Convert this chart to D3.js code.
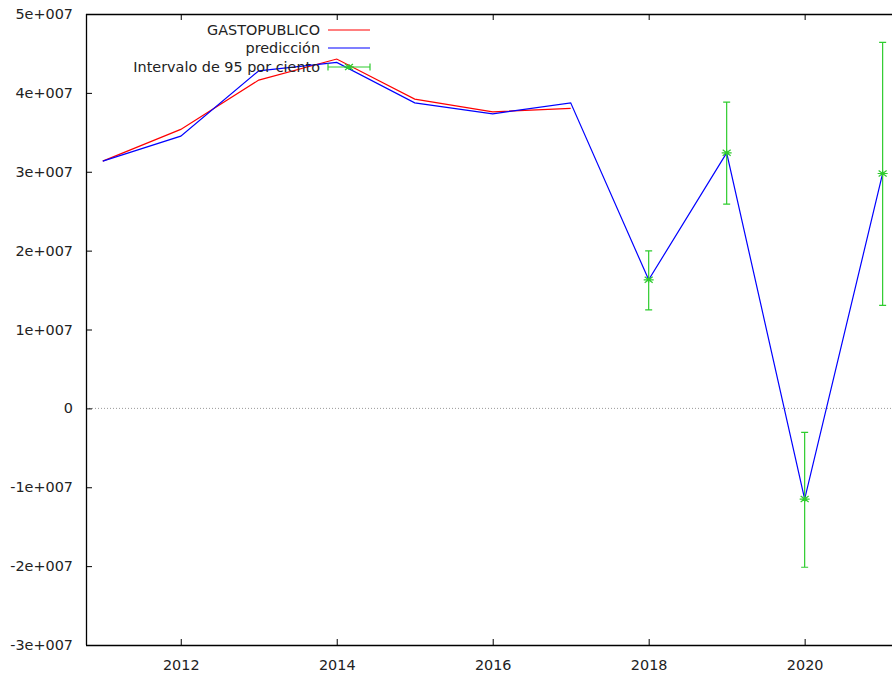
<!DOCTYPE html>
<html><head><meta charset="utf-8">
<script src="https://cdn.jsdelivr.net/npm/d3@7"></script>
<style>body{margin:0;background:#fff}svg{display:block}text{font-family:"DejaVu Sans",Verdana,sans-serif;font-size:14.4px;fill:#222}</style>
</head><body><svg id="c" width="892" height="674"></svg>
<script>
const years = [2011,2012,2013,2014,2015,2016,2017,2018,2019,2020,2021];
const gasto = [3.135e7,3.537e7,4.162e7,4.429e7,3.921e7,3.760e7,3.803e7];
const gastoYears = [2011,2012,2013,2014,2015,2016,2017];
const prediccion = [3.135e7,3.452e7,4.280e7,4.387e7,3.874e7,3.735e7,3.874e7,1.630e7,3.240e7,-1.150e7,2.978e7];
const ciYears = [2018,2019,2020,2021];
const ciCenter = [1.630e7,3.240e7,-1.150e7,2.978e7];
const ciLow = [1.248e7,2.589e7,-2.014e7,1.307e7];
const ciHigh = [1.996e7,3.883e7,-0.305e7,4.641e7];
const xTicks = [2012,2014,2016,2018,2020];
const yTicks = [5e7,4e7,3e7,2e7,1e7,0,-1e7,-2e7,-3e7];
const yTickLabels = ["5e+007","4e+007","3e+007","2e+007","1e+007","0","-1e+007","-2e+007","-3e+007"];
const legendLabels = ["GASTOPUBLICO","predicción","Intervalo de 95 por ciento"];

const L=86,R=892,T=14,B=645;
const FONT="14.4px";
const svg=d3.select("#c");
const x=d3.scaleLinear().domain([2010.785,2021.12]).range([L,R]);
const y=d3.scaleLinear().domain([-3e7,5e7]).range([B,T]);

// zero line
svg.append("line").attr("x1",L).attr("x2",R).attr("y1",y(0)).attr("y2",y(0))
  .attr("stroke","#999").attr("stroke-width",1).attr("stroke-dasharray","1,2");

// axes
const yAx=d3.axisLeft(y).tickValues(yTicks).tickFormat((d,i)=>yTickLabels[i]).tickSize(-6).tickPadding(13);
const gy=svg.append("g").attr("transform",`translate(${L},0)`).call(yAx);
const xAx=d3.axisBottom(x).tickValues(xTicks).tickFormat(d3.format("d")).tickSize(-6).tickPadding(15);
const gx=svg.append("g").attr("transform",`translate(0,${B})`).call(xAx);
const xTop=d3.axisTop(x).tickValues(xTicks).tickFormat("").tickSize(-6);
const gt=svg.append("g").attr("transform",`translate(0,${T})`).call(xTop);
[gy,gx,gt].forEach(g=>{g.select(".domain").attr("stroke","#000").attr("stroke-width",1.3);
  g.selectAll(".tick line").attr("stroke","#000");
  g.selectAll(".tick text").style("font-family","DejaVu Sans, Verdana, sans-serif").style("font-size",FONT).attr("fill","#222");});
gy.select(".domain").attr("d",`M0.5,${T}V${B}`);
gx.select(".domain").attr("d",`M${L},0.5H${R}`);
gt.select(".domain").attr("d",`M${L},0.5H${R}`);

const line=d3.line().x(d=>x(d[0])).y(d=>y(d[1]));
const green="#2ecc2e";

// red
svg.append("path").datum(gastoYears.map((t,i)=>[t,gasto[i]])).attr("d",line)
  .attr("fill","none").attr("stroke","#ff0000").attr("stroke-width",1.2);
// blue
svg.append("path").datum(years.map((t,i)=>[t,prediccion[i]])).attr("d",line)
  .attr("fill","none").attr("stroke","#0000ff").attr("stroke-width",1.2);

function star(g,cx,cy,r){
  const p=`M${cx-r},${cy}H${cx+r}M${cx},${cy-r*0.6}V${cy+r*0.6}M${cx-r*0.8},${cy-r*0.6}L${cx+r*0.8},${cy+r*0.6}M${cx-r*0.8},${cy+r*0.6}L${cx+r*0.8},${cy-r*0.6}`;
  g.append("path").attr("d",p).attr("stroke",green).attr("stroke-width",1.2).attr("fill","none");
}
// error bars
const eg=svg.append("g");
ciYears.forEach((t,i)=>{
  const cx=x(t);
  eg.append("path").attr("d",`M${cx},${y(ciLow[i])}V${y(ciHigh[i])}M${cx-3.5},${y(ciLow[i])}H${cx+3.5}M${cx-3.5},${y(ciHigh[i])}H${cx+3.5}`)
    .attr("stroke",green).attr("stroke-width",1.2).attr("fill","none");
  star(eg,cx,y(ciCenter[i]),5);
});

// legend
const lg=svg.append("g");
const rows=[30,48,67];
legendLabels.forEach((s,i)=>{
  lg.append("text").attr("x",320).attr("y",rows[i]+5).attr("text-anchor","end").text(s);
});
lg.append("line").attr("x1",328).attr("x2",370).attr("y1",rows[0]).attr("y2",rows[0]).attr("stroke","#ff0000").attr("stroke-width",1.2);
lg.append("line").attr("x1",328).attr("x2",370).attr("y1",rows[1]).attr("y2",rows[1]).attr("stroke","#0000ff").attr("stroke-width",1.2);
lg.append("path").attr("d",`M328,${rows[2]}H370M328,${rows[2]-3.5}V${rows[2]+3.5}M370,${rows[2]-3.5}V${rows[2]+3.5}`)
  .attr("stroke",green).attr("stroke-width",1.2).attr("fill","none");
star(lg,349,rows[2],5);
</script></body></html>
